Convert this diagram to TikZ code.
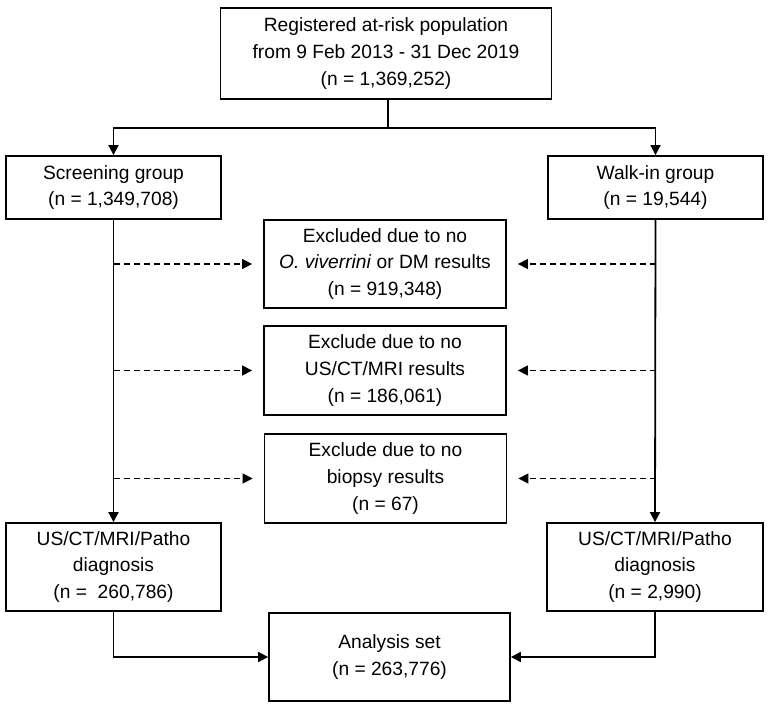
\documentclass[tikz,border=0pt]{standalone}
\usepackage{fontspec}
\setmainfont{Liberation Sans}
\usetikzlibrary{arrows.meta,calc}
\begin{document}
\begin{tikzpicture}[x=1pt,y=-1pt,
  box/.style={draw, line width=1.8pt, inner sep=0pt, align=center,
    font=\fontsize{19.2}{26.8}\selectfont},
  conn/.style={line width=1.8pt},
  arr/.style={conn, -{Triangle[length=10pt,width=10pt]}},
  dasharr/.style={line width=1.3pt, dash pattern=on 6pt off 4pt, -{Triangle[length=10pt,width=10pt]}, shorten >=11pt}
]
\useasboundingbox (0,0) rectangle (770,708);
\node[box, minimum width=331pt, minimum height=91pt] (top) at (386,53.5)
  {Registered at-risk population\\from 9 Feb 2013 - 31 Dec 2019\\(n = 1,369,252)};
\node[box, minimum width=215pt, minimum height=63pt] (screen) at (113.5,187.5)
  {Screening group\\(n = 1,349,708)};
\node[box, minimum width=215pt, minimum height=63pt] (walk) at (655.5,187.5)
  {Walk-in group\\(n = 19,544)};
\node[box, minimum width=242pt, minimum height=88pt] (ex1) at (385,264)
  {Excluded due to no\\\textit{O. viverrini} or DM results\\(n = 919,348)};
\node[box, minimum width=242pt, minimum height=89pt] (ex2) at (385,370.5)
  {Exclude due to no\\US/CT/MRI results\\(n = 186,061)};
\node[box, minimum width=242pt, minimum height=89pt] (ex3) at (385.5,478.5)
  {Exclude due to no\\biopsy results\\(n = 67)};
\node[box, minimum width=215pt, minimum height=88pt] (diagL) at (113.5,567)
  {US/CT/MRI/Patho\\diagnosis\\(n = \ 260,786)};
\node[box, minimum width=216pt, minimum height=88pt] (diagR) at (655,567)
  {US/CT/MRI/Patho\\diagnosis\\(n = 2,990)};
\node[box, minimum width=241pt, minimum height=88pt] (ana) at (389.5,657)
  {Analysis set\\(n = 263,776)};
\coordinate (split) at (388,128);
\draw[conn] (split |- top.south) -- (split);
\draw[arr] (split) -| (screen.north);
\draw[arr] (split) -| (walk.north);
\draw[arr] (screen.south) -- (diagL.north);
\draw[arr] (walk.south) -- (diagR.north);
\foreach \e in {ex1,ex2,ex3}{
  \draw[dasharr] (screen.south |- \e.west) -- (\e.west);
  \draw[dasharr] (walk.south |- \e.east) -- (\e.east);
}
\draw[arr] (diagL.south) |- (ana.west);
\draw[arr] (diagR.south) |- (ana.east);
\end{tikzpicture}
\end{document}
